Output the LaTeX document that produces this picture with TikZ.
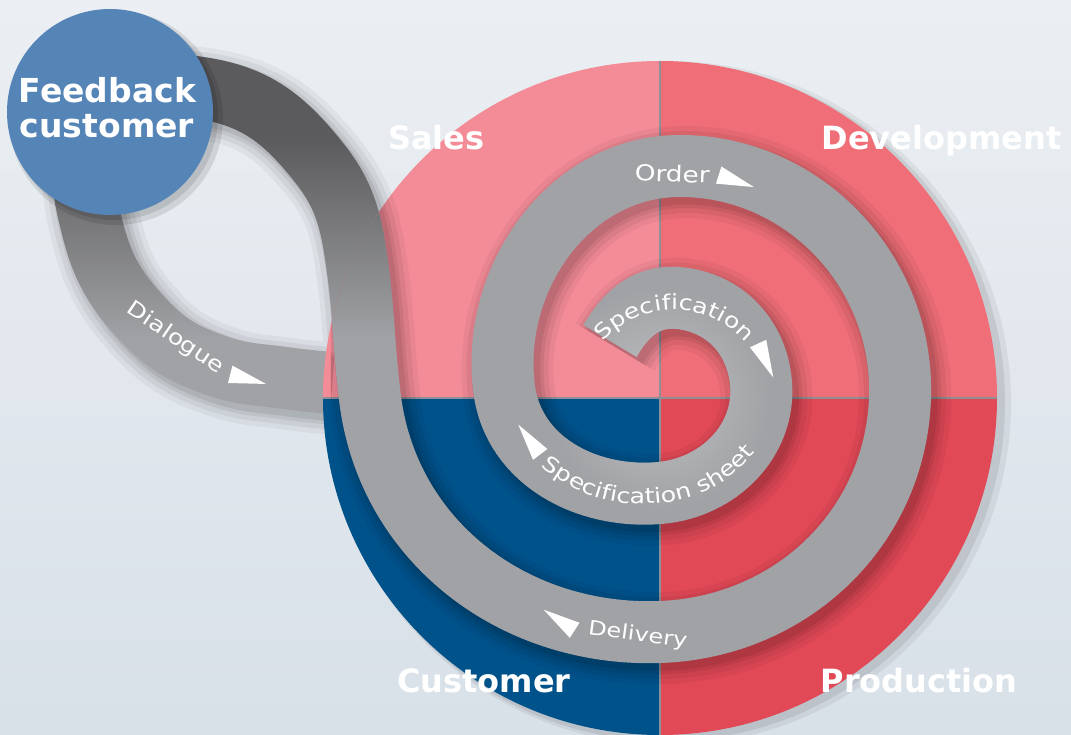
\documentclass[tikz,border=0pt]{standalone}
\usepackage{fontspec}
\setmainfont{DejaVu Sans}
\newfontfamily\lblfont{DejaVu Sans}[FakeStretch=1.2]
\usetikzlibrary{decorations.text,decorations.markings,fadings}

\definecolor{bgtop}{HTML}{EBEFF3}
\definecolor{bgbot}{HTML}{D8E0E8}
\definecolor{salescol}{HTML}{F38C97}
\definecolor{devcol}{HTML}{F06E78}
\definecolor{custcol}{HTML}{00528B}
\definecolor{prodcol}{HTML}{E14957}
\definecolor{divcol}{HTML}{8D9197}
\definecolor{bandcol}{HTML}{A1A2A5}
\definecolor{bandlight}{HTML}{BFC0C2}
\definecolor{banddark}{HTML}{5B5B5D}
\definecolor{fbcol}{HTML}{5584B7}

\tikzfading[name=fadedown, top color=transparent!0, bottom color=transparent!100]
\tikzfading[name=glowfade, inner color=transparent!0, outer color=transparent!100]

\newcommand\lblfmt{\lblfont\fontsize{21}{24}\selectfont}

\tikzset{
  bigtext/.style={text=white, font=\fontsize{32}{38}\selectfont\bfseries, inner sep=0pt, anchor=base},
  fbtext/.style={bigtext, font=\fontsize{33}{38}\selectfont\bfseries},
  bandlabel/.style={text=white, font=\lblfmt, inner sep=0pt, anchor=base},
  fwdarrow/.style={postaction={decorate, decoration={markings, mark=at position #1 with {\fill[white] (0,0) -- (4,17.5) -- (38,0) -- cycle;}}}},
  revarrow/.style={postaction={decorate, decoration={markings, mark=at position #1 with {\fill[white] (0,17.5) -- (38,17.5) -- (34,0) -- cycle;}}}},
  lbltext/.style n args={3}{postaction={decorate, decoration={text along path, text={|\lblfmt|#1}, text color=white, text align={#2, #2 indent=#3}}}}
}

% the grey band: one smooth centre line, drawn with the given options
\newcommand\bandline[1]{%
  \draw[#1] (-50,57)
    to[out=60,in=175]   (18,100)
    to[out=-5,in=95]    (101,15)
    to[out=-85,in=5]    (0,-95)
    to[out=185,in=277]  (-156,10)
    to[out=97,in=180]   (20,232)
    to[out=0,in=88]     (240,0)
    to[out=-92,in=2]    (0,-234)
    to[out=182,in=277]  (-290,0)
    to[out=97,in=279]   (-305,148)
    to[out=99,in=309]   (-343,238)
    to[out=129,in=350]  (-453,309)
    to[out=170,in=40]   (-545,290)
    to[out=220,in=103]  (-572,188)
    to[out=283,in=130]  (-529,92)
    to[out=310,in=160]  (-451,35)
    to[out=340,in=174]  (-400,23)
    to[out=354,in=176]  (-333,15.5);
}

\newcommand\drawband{%
  \foreach \w/\o in {92pt/0.045,82pt/0.055,72pt/0.065,65pt/0.08}{%
    \begin{scope}[transform canvas={shift={(5pt,-6pt)}}]
      \bandline{line width=\w, black, opacity=\o}
    \end{scope}
  }
  \bandline{line width=62pt, bandcol}
  \bandline{line width=62pt, bandlight, path fading=glowfade, fit fading=false, fading transform={scale=4.5}}
  \bandline{line width=62pt, banddark, path fading=fadedown, fit fading=false, fading transform={shift={(-430pt,160pt)}, xscale=4, yscale=4}}
}

\begin{document}
\begin{tikzpicture}[x=1pt,y=1pt]
\useasboundingbox (-660,-337) rectangle (411,398);
\shade[top color=bgtop, bottom color=bgbot] (-660,-337) rectangle (411,398);

% band under the circle (the Dialogue end goes below it)
\drawband

% big circle
\fill[black, opacity=0.06] (9,-5) circle (342);
\fill[black, opacity=0.08] (6,-4) circle (339);
\fill[salescol] (0,0) -- (-337,0) arc[start angle=180, end angle=90, radius=337] -- cycle;
\fill[devcol] (0,0) -- (0,337) arc[start angle=90, end angle=0, radius=337] -- cycle;
\fill[prodcol] (0,0) -- (337,0) arc[start angle=0, end angle=-90, radius=337] -- cycle;
\fill[custcol] (0,0) -- (0,-337) arc[start angle=-90, end angle=-180, radius=337] -- cycle;
\draw[divcol, line width=2.5pt] (0,-337) -- (0,337) (-337,0) -- (337,0);

% band over the circle
\begin{scope}
  \clip (-329,-337) rectangle (411,398);
  \clip (0,0) circle (337);
  \drawband
\end{scope}

% feedback circle
\fill[black, opacity=0.10] (-544,280) circle (107);
\fill[black, opacity=0.10] (-546,282) circle (104);
\fill[fbcol] (-550,286) circle (103);
\node[fbtext] (fbtexta) at (-552.5,295) {Feedback};
\node[fbtext] (fbtextb) at (-553,260) {customer};

% quadrant labels
\node[bigtext] (sales) at (-223.5,248) {Sales};
\node[bigtext] (development) at (281.5,248) {Development};
\node[bigtext] (customer) at (-176,-295) {Customer};
\node[bigtext] (production) at (259,-295) {Production};

% band labels
\node[bandlabel, font=\lblfont\fontsize{22}{24}\selectfont, rotate=-2] (order) at (12,216) {Order};
\node[bandlabel, font=\lblfont\fontsize{20}{24}\selectfont, rotate=-7.5] (delivery) at (-23,-243) {Delivery};
\node[bandlabel, rotate=-34] (dialogue) at (-488,55) {Dialogue};
\path[lbltext={Specification}{right}{44pt}]
  ([shift={(14,-8)}]150:96) arc[start angle=150, end angle=15, radius=96];
\path[lbltext={Specification sheet}{left}{44pt}]
  (-153,-40) to[out=-40, in=180] (-20,-106) to[out=0, in=-125] (106,-40);

% flow arrows
\path[fwdarrow=-38pt]
  ([shift={(20,-184)}]98:400) arc[start angle=98, end angle=79.4, radius=400];
\path[fwdarrow=-38pt]
  ([shift={(14,-8)}]150:96) arc[start angle=150, end angle=15, radius=96];
\path[revarrow=0.01pt]
  (-153,-40) to[out=-40, in=180] (-20,-106) to[out=0, in=-125] (106,-40);
\path[revarrow=0.01pt]
  ([shift={(-10,80)}]250:328) arc[start angle=250, end angle=282, radius=328];
\path[fwdarrow=-40pt]
  (-537,86) to[out=-42, in=178] (-432,15) -- (-392,14);
\end{tikzpicture}
\end{document}
